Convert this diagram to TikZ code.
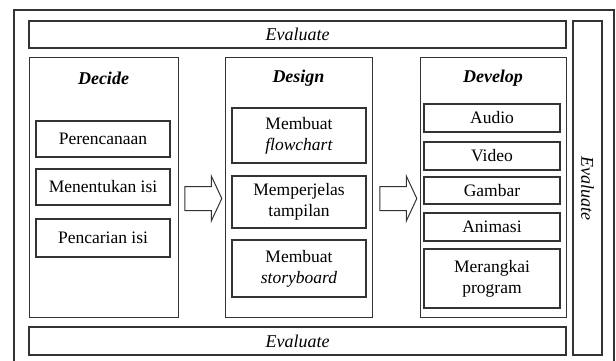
\documentclass[tikz,border=0pt]{standalone}
\usepackage{fontspec}
\setmainfont{Liberation Serif}
\usetikzlibrary{shapes.arrows}
\tikzset{
  colbox/.style={rectangle, draw=black!80, line width=1.2pt, anchor=north west},
  itembox/.style={rectangle, draw=black!80, line width=1.2pt, align=center, inner sep=0pt,
    font=\fontsize{17.5}{21}\selectfont},
  evalbox/.style={rectangle, draw=black!80, line width=1.2pt, inner sep=0pt,
    font=\fontsize{18}{21}\selectfont\itshape},
  coltitle/.style={font=\fontsize{18}{21}\selectfont\bfseries\itshape},
  flowarrow/.style={single arrow, draw=black!80, line width=1pt, inner xsep=0pt, inner ysep=11.5pt,
    single arrow head extend=10.5pt, single arrow tip angle=130, minimum height=37pt}
}
\begin{document}
\begin{tikzpicture}[x=1pt,y=-1pt]
\useasboundingbox (0,0) rectangle (616,360);
\draw[black!80, line width=1.2pt] (14,362) -- (14,10) -- (614,10) -- (614,362);

\node (EvTop)[evalbox, minimum width=537pt, minimum height=27pt] at (297.5,34.5) {Evaluate};
\node (EvBot)[evalbox, minimum width=537pt, minimum height=28pt] at (297.5,341) {Evaluate};
\node (EvRight)[evalbox, minimum width=29pt, minimum height=334pt] at (587.5,188) {};
\node[rotate=-90, font=\fontsize{18}{21}\selectfont\itshape] at (EvRight.center) {Evaluate};

\node (Decide)[colbox, minimum width=149pt, minimum height=260pt] at (29,57) {};
\node (Design)[colbox, minimum width=147pt, minimum height=260pt] at (225,57) {};
\node (Develop)[colbox, minimum width=146pt, minimum height=260pt] at (420,57) {};
\node[coltitle] at (103.5,78) {Decide};
\node[coltitle] at (298.5,78) {Design};
\node[coltitle] at (493,78) {Develop};

\node (Plan)[itembox, minimum width=134pt, minimum height=36pt] at (103,139) {Perencanaan};
\node (Isi)[itembox, minimum width=134pt, minimum height=36pt] at (103,187) {Menentukan isi};
\node (Cari)[itembox, minimum width=134pt, minimum height=38pt] at (103,238) {Pencarian isi};

\node (Flow)[itembox, minimum width=134pt, minimum height=55pt] at (299,135.5) {Membuat\\\textit{flowchart}};
\node (Tampil)[itembox, minimum width=134pt, minimum height=52pt] at (299,202) {Memperjelas\\tampilan};
\node (Story)[itembox, minimum width=134pt, minimum height=57pt] at (299,268.5) {Membuat\\\textit{storyboard}};

\node (Audio)[itembox, minimum width=136pt, minimum height=28pt] at (492,118) {Audio};
\node (Video)[itembox, minimum width=136pt, minimum height=28pt] at (492,156) {Video};
\node (Gambar)[itembox, minimum width=136pt, minimum height=27pt] at (492,190.5) {Gambar};
\node (Animasi)[itembox, minimum width=136pt, minimum height=28pt] at (492,227) {Animasi};
\node (Program)[itembox, minimum width=136pt, minimum height=59pt] at (492,278.5) {Merangkai\\program};

\node (DecToDes)[flowarrow] at (200.5,198.5) {};
\node (DesToDev)[flowarrow] at (395.5,198.5) {};
\end{tikzpicture}
\end{document}
